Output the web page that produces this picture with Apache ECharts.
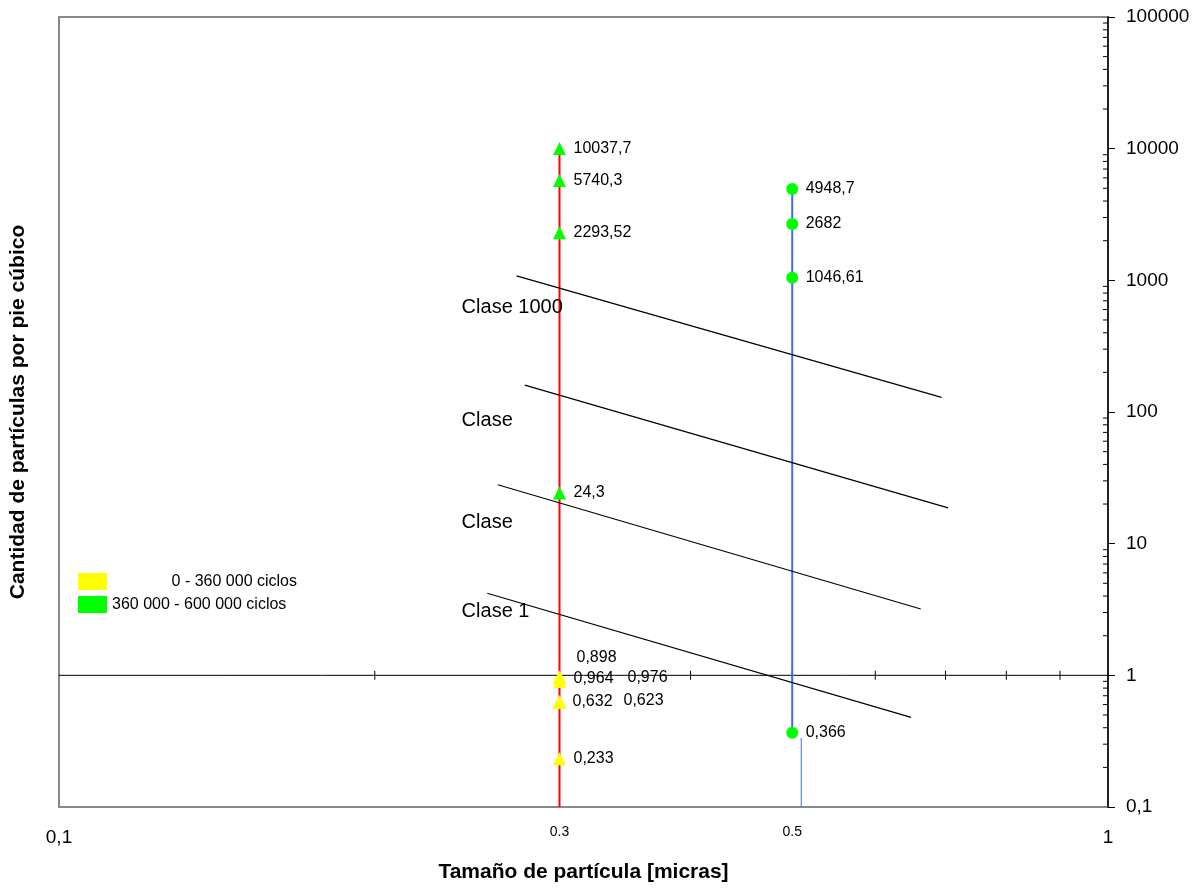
<!DOCTYPE html>
<html>
<head>
<meta charset="utf-8">
<title>Cantidad de partículas por pie cúbico</title>
<script src="https://cdn.jsdelivr.net/npm/echarts@6/dist/echarts.min.js"></script>
<style>
  html, body { margin: 0; padding: 0; background: #fff; }
  #chart { width: 1204px; height: 890px; }
</style>
</head>
<body>
<div id="chart"></div>
<script>
const FONT = 'Arial, "Liberation Sans", sans-serif';

// series names (legend)
const yellowName = '0 - 360 000 ciclos';
const greenName = '360 000 - 600 000 ciclos';

// particle sizes (micras)
const sizeRed = 0.3;
const sizeBlue = 0.5;
const sizeTicks = [0.2, 0.3, 0.4, 0.5, 0.6, 0.7, 0.8, 0.9];
const sizeLabels = [0.3, 0.5];

// measured values
const greenTriY = [10037.7, 5740.3, 2293.52, 24.3];
const yellowTriY = [0.898, 0.964, 0.976, 0.632, 0.623, 0.233];
const greenDotY = [4948.7, 2682, 1046.61, 0.366];
const yellowLabelShift = [[3, -24], [0, 1], [54, 1], [-1, 0], [50, -2], [0, 0]];

// blue tail under the last point
const blueTailX = 0.51;
const blueTailY = [0.334, 0.1];

// class limit lines
const classNames = ['Clase 1000', 'Clase', 'Clase', 'Clase 1'];
const classTextX = 0.242;
const classTextY = [619, 86.9, 14.4, 3.04];
const classLineFrom = [[0.273, 1080], [0.278, 160], [0.262, 28], [0.256, 4.2]];
const classLineTo = [[0.694, 129], [0.704, 18.7], [0.663, 3.19], [0.649, 0.48]];

// y minor ticks
const yDecades = [0.1, 1, 10, 100, 1000, 10000];
const minorSteps = [2, 3, 4, 5, 6, 7, 8, 9];

const fmt = v => String(Number(Number(v).toPrecision(6))).replace('.', ',');

const myChart = echarts.init(document.getElementById('chart'));

const yMinor = [];
yDecades.forEach(d => minorSteps.forEach(m => yMinor.push([1, Number((d * m).toPrecision(6))])));

const classSeries = classLineFrom.map((p, i) => ({
  name: 'clase' + i,
  type: 'line',
  data: [p, classLineTo[i]],
  symbol: 'none',
  silent: true,
  z: 2,
  lineStyle: { color: '#000', width: 1.2 }
}));

const pointLabel = {
  show: true, position: 'right', distance: 7.5, formatter: p => fmt(p.value[1]),
  fontSize: 16, color: '#000', fontFamily: FONT
};

const option = {
  backgroundColor: '#fff',
  animation: false,
  grid: {
    left: 59, right: 96, top: 17, bottom: 83,
    show: true, borderColor: '#888', borderWidth: 2, backgroundColor: '#fff'
  },
  legend: {
    orient: 'vertical', left: 78, top: 573, padding: 0,
    itemWidth: 29, itemHeight: 17, itemGap: 6,
    selectedMode: false,
    data: [{ name: yellowName, icon: 'rect' }, { name: greenName, icon: 'rect' }],
    formatter: n => (n === yellowName ? '{r|' + n + '}' : '{l|' + n + '}'),
    textStyle: {
      fontSize: 16, color: '#000', fontFamily: FONT,
      rich: {
        r: { width: 185, align: 'right', fontSize: 16, fontFamily: FONT, color: '#000' },
        l: { width: 185, align: 'left', fontSize: 16, fontFamily: FONT, color: '#000' }
      }
    }
  },
  xAxis: [{
    type: 'log', logBase: 10, min: 0.1, max: 1,
    position: 'bottom',
    axisLine: { show: false }, axisTick: { show: false }, splitLine: { show: false },
    axisLabel: { margin: 21, fontSize: 19, color: '#000', fontFamily: FONT, formatter: fmt },
    name: 'Tamaño de partícula [micras]', nameLocation: 'middle', nameGap: 55,
    nameTextStyle: { fontSize: 21, fontWeight: 'bold', color: '#000', fontFamily: FONT }
  }],
  yAxis: [{
    type: 'log', logBase: 10, min: 0.1, max: 100000,
    position: 'right',
    axisLine: { show: true, lineStyle: { color: '#000', width: 1.5 } },
    axisTick: { show: true, length: 7, lineStyle: { color: '#000', width: 1 } },
    axisLabel: { margin: 18, fontSize: 19, color: '#000', fontFamily: FONT, formatter: fmt },
    splitLine: { show: false }
  }, {
    type: 'log', logBase: 10, min: 0.1, max: 100000,
    position: 'left',
    axisLine: { show: false }, axisTick: { show: false }, axisLabel: { show: false },
    splitLine: { show: false },
    name: 'Cantidad de partículas por pie cúbico', nameLocation: 'middle', nameRotate: 90, nameGap: 30,
    nameTextStyle: { fontSize: 21, fontWeight: 'bold', color: '#000', fontFamily: FONT }
  }],
  series: [
    {
      name: 'eje1', type: 'line', data: [[0.1, 1], [1, 1]], symbol: 'none', silent: true, z: 1,
      lineStyle: { color: '#000', width: 1 }
    },
    {
      name: 'ticksX', type: 'scatter', data: sizeTicks.map(x => [x, 1]), silent: true, z: 1,
      symbol: 'rect', symbolSize: [1, 9], itemStyle: { color: '#000', opacity: 1 }
    },
    {
      name: 'ticksY', type: 'scatter', data: yMinor, silent: true, clip: false,
      symbol: 'rect', symbolSize: [5, 1], symbolOffset: [-2.5, 0], itemStyle: { color: '#000', opacity: 1 }
    },
    {
      name: 'rojo', type: 'line', data: [[sizeRed, 0.1], [sizeRed, greenTriY[0]]], z: 2,
      symbol: 'none', silent: true, lineStyle: { color: '#ff0000', width: 2 }
    },
    {
      name: 'azul', type: 'line', data: [[sizeBlue, greenDotY[0]], [sizeBlue, greenDotY[3]]], z: 2,
      symbol: 'none', silent: true, lineStyle: { color: '#3c6cf5', width: 2 }
    },
    {
      name: 'azul2', type: 'line', data: blueTailY.map(y => [blueTailX, y]), z: 2,
      symbol: 'none', silent: true, lineStyle: { color: '#3c6cf5', width: 1 }
    },
    ...classSeries,
    {
      name: 'clases', type: 'scatter', silent: true, z: 3,
      data: classNames.map((n, i) => ({ value: [classTextX, classTextY[i]], name: n })),
      symbolSize: 0, itemStyle: { opacity: 1 },
      label: {
        show: true, position: 'right', distance: 0, formatter: p => p.name,
        fontSize: 20, color: '#000', fontFamily: FONT
      }
    },
    {
      name: 'tamanos', type: 'scatter', silent: true, clip: false,
      data: sizeLabels.map(x => [x, 0.1]),
      symbolSize: 0, itemStyle: { opacity: 1 },
      label: {
        show: true, position: 'bottom', distance: 18, formatter: p => String(p.value[0]),
        fontSize: 14, color: '#000', fontFamily: FONT
      }
    },
    {
      name: yellowName, type: 'scatter', symbol: 'triangle', symbolSize: 13, z: 10,
      itemStyle: { color: '#ffff00', opacity: 1 },
      data: yellowTriY.map((y, i) => ({
        value: [sizeRed, y],
        label: { offset: yellowLabelShift[i] }
      })),
      label: pointLabel
    },
    {
      name: greenName, type: 'scatter', symbol: 'triangle', symbolSize: 13, z: 10,
      itemStyle: { color: '#00ff00', opacity: 1 },
      data: greenTriY.map(y => [sizeRed, y]),
      label: pointLabel
    },
    {
      name: greenName, type: 'scatter', symbol: 'circle', symbolSize: 12, z: 10,
      itemStyle: { color: '#00ff00', opacity: 1 },
      data: greenDotY.map(y => [sizeBlue, y]),
      label: pointLabel
    }
  ]
};

myChart.setOption(option);
</script>
</body>
</html>
